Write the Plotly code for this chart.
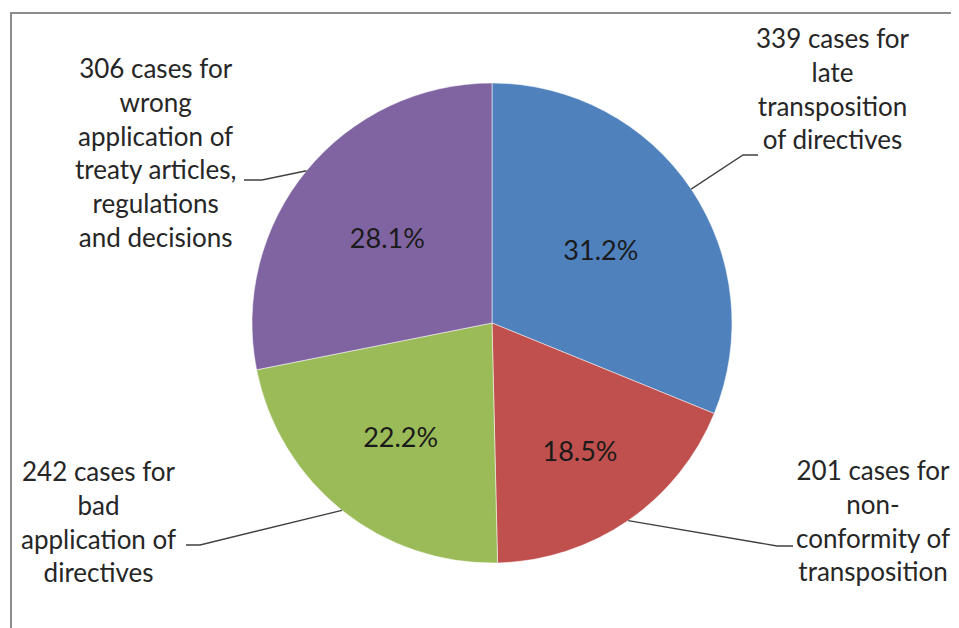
import math
import plotly.graph_objects as go

# ---- data ----
categories = [
    "late transposition of directives",
    "non-conformity of transposition",
    "bad application of directives",
    "wrong application of treaty articles, regulations and decisions",
]
cases = [339, 201, 242, 306]
label_texts = [
    "339 cases for<br>late<br>transposition<br>of directives",
    "201 cases for<br>non-<br>conformity of<br>transposition",
    "242 cases for<br>bad<br>application of<br>directives",
    "306 cases for<br>wrong<br>application of<br>treaty articles,<br>regulations<br>and decisions",
]
colors = ["#4F81BD", "#C0504D", "#9BBB59", "#8064A2"]

# ---- layout geometry (page pixels; page body has an 8px margin) ----
OFF = 8
W, H = 959 - 2 * OFF, 628 - OFF
CX, CY, R = 492, 323, 240
FONT = "Lato, Calibri, Carlito, sans-serif"

def px(x):
    return (x - OFF) / W

def py(y):
    return 1 - (y - OFF) / H

label_pos = [(833, 88), (873, 520), (98, 521), (155, 152)]
elbows = [((743, 155), (758, 155)), ((777, 546), (793, 546)),
          ((200, 545), (186, 545)), ((262, 180), (244, 180))]

fig = go.Figure(go.Pie(
    labels=categories,
    values=cases,
    sort=False,
    direction="clockwise",
    rotation=0,
    marker=dict(colors=colors, line=dict(color="rgba(255,255,255,0.5)", width=1)),
    texttemplate="%{percent:.1%}",
    textposition="inside",
    insidetextorientation="horizontal",
    textfont=dict(family=FONT, size=27, color="#1a1a1a"),
    domain=dict(x=[px(CX - R), px(CX + R)], y=[py(CY + R), py(CY - R)]),
    showlegend=False,
    hoverinfo="label+value+percent",
))

# chart-area border: only the top and left edges are visible in the crop
shapes = [dict(type="path", xref="paper", yref="paper",
               path=f"M {px(11)} {py(640)} L {px(11)} {py(13)} L {px(958)} {py(13)}",
               line=dict(color="#8c8c8c", width=2), layer="below")]

annotations = []
total = sum(cases)
cum = 0
for i, v in enumerate(cases):
    mid = (cum + v / 2) / total * 2 * math.pi
    cum += v
    ex, ey = CX + R * math.sin(mid), CY - R * math.cos(mid)
    (bx, by), (tx, ty) = elbows[i]
    shapes.append(dict(type="path", xref="paper", yref="paper",
                       path=f"M {px(ex)} {py(ey)} L {px(bx)} {py(by)} L {px(tx)} {py(ty)}",
                       line=dict(color="#404040", width=1.3)))
    lx, ly = label_pos[i]
    annotations.append(dict(x=px(lx), y=py(ly), xref="paper", yref="paper",
                            text=label_texts[i], showarrow=False, align="center",
                            xanchor="center", yanchor="middle",
                            font=dict(family=FONT, size=26, color="#262626")))

fig.update_layout(
    width=W, height=H,
    margin=dict(l=0, r=0, t=0, b=0),
    paper_bgcolor="white",
    plot_bgcolor="white",
    shapes=shapes,
    annotations=annotations,
)

fig.write_html("out.html", config={"displayModeBar": False})
